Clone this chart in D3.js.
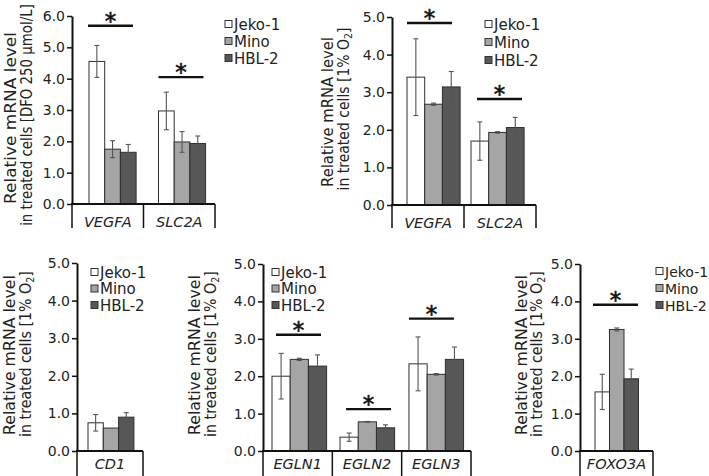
<!DOCTYPE html>
<html><head><meta charset="utf-8">
<script src="https://cdn.jsdelivr.net/npm/d3@7"></script>
<style>
html,body{margin:0;padding:0;background:#fff;}
svg{display:block;font-family:"DejaVu Sans",Verdana,sans-serif;}
</style></head>
<body>
<svg id="chart" width="709" height="476"></svg>
<script>
// ---------- DATA ----------
const seriesNames = ["Jeko-1", "Mino", "HBL-2"];

const p1Categories = ["VEGFA", "SLC2A"];
const p1Values = [[4.55, 1.75, 1.65], [2.97, 1.98, 1.93]];
const p1Errors = [[0.51, 0.27, 0.25], [0.60, 0.33, 0.24]];
const p1Sig = [5.69, 4.05];
const p1Ticks = [0, 1, 2, 3, 4, 5, 6];

const p2Categories = ["VEGFA", "SLC2A"];
const p2Values = [[3.40, 2.68, 3.14], [1.70, 1.93, 2.06]];
const p2Errors = [[1.02, 0.03, 0.41], [0.51, 0.02, 0.27]];
const p2Sig = [4.84, 2.82];
const p2Ticks = [0, 1, 2, 3, 4, 5];

const p3Categories = ["CD1"];
const p3Values = [[0.75, 0.61, 0.90]];
const p3Errors = [[0.22, 0.0, 0.12]];
const p3Sig = [null];
const p3Ticks = [0, 1, 2, 3, 4, 5];

const p4Categories = ["EGLN1", "EGLN2", "EGLN3"];
const p4Values = [[2.00, 2.45, 2.27], [0.37, 0.78, 0.62], [2.33, 2.05, 2.45]];
const p4Errors = [[0.61, 0.03, 0.30], [0.11, 0.01, 0.08], [0.72, 0.02, 0.33]];
const p4Sig = [3.11, 1.12, 3.54];
const p4Ticks = [0, 1, 2, 3, 4, 5];

const p5Categories = ["FOXO3A"];
const p5Values = [[1.58, 3.25, 1.93]];
const p5Errors = [[0.47, 0.04, 0.26]];
const p5Sig = [3.91];
const p5Ticks = [0, 1, 2, 3, 4, 5];

const titleLine1 = "Relative mRNA level";
const titleLine2DFO = "in treated cells [DFO 250 µmol/L]";
const titleLine2O2 = "in treated cells [1% O";

// ---------- STYLE / LAYOUT ----------
const fills = ["#ffffff", "#a5a5a5", "#575757"];
const svg = d3.select("#chart");

const panels = [
  {cats: p1Categories, vals: p1Values, errs: p1Errors, sig: p1Sig, ticks: p1Ticks,
   left: 72, right: 215, top: 16, bottom: 204, boxBottom: 228, labelDy: 23,
   pads: [17, 15], barW: 15.7, sigDx: [-1, 0], sigLen: 45,
   legX: 225, legY: 24, legStep: 17, legFont: 15,
   t1x: 16, t2x: 32, ty1: 118, ty2: 115, len1: 172, len2: 222, line2: titleLine2DFO, o2: false},
  {cats: p2Categories, vals: p2Values, errs: p2Errors, sig: p2Sig, ticks: p2Ticks,
   left: 392, right: 536, top: 17, bottom: 205, boxBottom: 228, labelDy: 23,
   pads: [15, 7], barW: 17.7, sigDx: [0, 6], sigLen: 45,
   legX: 485, legY: 24, legStep: 18, legFont: 15,
   t1x: 333, t2x: 349, ty1: 112, ty2: 109, len1: 150, len2: 163, line2: titleLine2O2, o2: true},
  {cats: p3Categories, vals: p3Values, errs: p3Errors, sig: p3Sig, ticks: p3Ticks,
   left: 77, right: 143, top: 263, bottom: 451, boxBottom: 476, labelDy: 18,
   pads: [11], barW: 15.3, sigDx: [0], sigLen: 45,
   legX: 91, legY: 272, legStep: 16.5, legFont: 15,
   t1x: 15, t2x: 31, ty1: 355, ty2: 354, len1: 160, len2: 166, line2: titleLine2O2, o2: true},
  {cats: p4Categories, vals: p4Values, errs: p4Errors, sig: p4Sig, ticks: p4Ticks,
   left: 263, right: 471, top: 264, bottom: 451, boxBottom: 476, labelDy: 18,
   pads: [9, 7.7, 7.3], barW: 18.2, sigDx: [4, 6, 0], sigLen: 45,
   legX: 272, legY: 272, legStep: 16.5, legFont: 15,
   t1x: 200, t2x: 216, ty1: 355, ty2: 354, len1: 160, len2: 166, line2: titleLine2O2, o2: true},
  {cats: p5Categories, vals: p5Values, errs: p5Errors, sig: p5Sig, ticks: p5Ticks,
   left: 580, right: 653, top: 264, bottom: 451, boxBottom: 476, labelDy: 18,
   pads: [15], barW: 14.5, sigDx: [-2], sigLen: 45,
   legX: 656, legY: 271, legStep: 17, legFont: 14,
   t1x: 527, t2x: 542, ty1: 355, ty2: 354, len1: 160, len2: 166, line2: titleLine2O2, o2: true}
];

function fitRotated(sel, x, y, targetLen) {
  const w = sel.node().getComputedTextLength();
  const k = targetLen / w;
  sel.attr("transform", `translate(${x},${y}) rotate(-90) scale(${k},1)`);
}

panels.forEach(p => {
  const g = svg.append("g");
  const maxV = d3.max(p.ticks);
  const y = d3.scaleLinear().domain([0, maxV]).range([p.bottom, p.top]);
  const x0 = d3.scaleBand().domain(p.cats).range([p.left, p.right]).padding(0);
  const x1 = d3.scaleBand().domain(seriesNames).range([0, 3 * p.barW]).padding(0);

  // bars
  p.cats.forEach((c, ci) => {
    const gx = x0(c) + p.pads[ci];
    seriesNames.forEach((s, si) => {
      const v = p.vals[ci][si];
      g.append("rect")
        .attr("x", gx + x1(s)).attr("y", y(v))
        .attr("width", x1.bandwidth()).attr("height", y(0) - y(v))
        .attr("fill", fills[si]).attr("stroke", "#2e2e2e").attr("stroke-width", 1);
      const e = p.errs[ci][si];
      if (e > 0) {
        const cx = gx + x1(s) + x1.bandwidth() / 2;
        const eg = g.append("g").attr("stroke", "#555").attr("stroke-width", 1.1);
        eg.append("line").attr("x1", cx).attr("x2", cx).attr("y1", y(v + e)).attr("y2", y(v - e));
        eg.append("line").attr("x1", cx - 2.5).attr("x2", cx + 2.5).attr("y1", y(v + e)).attr("y2", y(v + e));
        eg.append("line").attr("x1", cx - 2.5).attr("x2", cx + 2.5).attr("y1", y(v - e)).attr("y2", y(v - e));
      }
    });
    // significance
    const sv = p.sig[ci];
    if (sv != null) {
      const sx = gx + p.sigDx[ci];
      g.append("line").attr("x1", sx).attr("x2", sx + p.sigLen)
        .attr("y1", y(sv)).attr("y2", y(sv)).attr("stroke", "#111").attr("stroke-width", 2.4);
      g.append("text").attr("x", sx + p.sigLen / 2).attr("y", y(sv) + 3)
        .attr("text-anchor", "middle").attr("font-size", 23).attr("fill", "#111")
        .attr("stroke", "#111").attr("stroke-width", 0.6).text("*");
    }
    // category label
    g.append("text").attr("x", x0(c) + x0.bandwidth() / 2).attr("y", p.bottom + p.labelDy)
      .attr("text-anchor", "middle").attr("font-size", 14.5).attr("font-style", "italic")
      .attr("fill", "#222").text(c);
  });

  // y axis
  const ax = g.append("g").attr("transform", `translate(${p.left},0)`)
    .call(d3.axisLeft(y).tickValues(p.ticks).tickFormat(d3.format(".1f")).tickSize(5).tickSizeOuter(0).tickPadding(2));
  ax.select(".domain").attr("stroke", "#111").attr("stroke-width", 2);
  ax.selectAll(".tick line").attr("stroke", "#111").attr("stroke-width", 1.5);
  ax.selectAll(".tick text").attr("font-size", 14).attr("fill", "#222")
    .attr("font-family", "DejaVu Sans, Verdana, sans-serif");

  // x axis and category box lines
  g.append("line").attr("x1", p.left - 1).attr("x2", p.right).attr("y1", p.bottom).attr("y2", p.bottom)
    .attr("stroke", "#111").attr("stroke-width", 2);
  const bounds = p.cats.map(c => x0(c)).concat([p.right]);
  bounds.forEach(bx => {
    g.append("line").attr("x1", bx).attr("x2", bx).attr("y1", p.bottom).attr("y2", p.boxBottom)
      .attr("stroke", "#111").attr("stroke-width", 1.5);
  });

  // legend
  seriesNames.forEach((s, si) => {
    const ly = p.legY + si * p.legStep;
    g.append("rect").attr("x", p.legX).attr("y", ly - 3.5).attr("width", 7).attr("height", 7)
      .attr("fill", fills[si]).attr("stroke", "#333").attr("stroke-width", 1);
    g.append("text").attr("x", p.legX + 9).attr("y", ly + 5.5).attr("font-size", p.legFont)
      .attr("fill", "#222").text(s);
  });

  // y title
  const t1 = g.append("text").attr("text-anchor", "middle").attr("font-size", 15)
    .attr("fill", "#222").text(titleLine1);
  fitRotated(t1, p.t1x, p.ty1, p.len1);
  const t2 = g.append("text").attr("text-anchor", "middle").attr("font-size", 15).attr("fill", "#222");
  if (p.o2) {
    t2.append("tspan").text(p.line2);
    t2.append("tspan").attr("font-size", 10).attr("dy", 3).text("2");
    t2.append("tspan").attr("dy", -3).text("]");
  } else {
    t2.text(p.line2);
  }
  fitRotated(t2, p.t2x, p.ty2, p.len2);
});
</script>
</body></html>
